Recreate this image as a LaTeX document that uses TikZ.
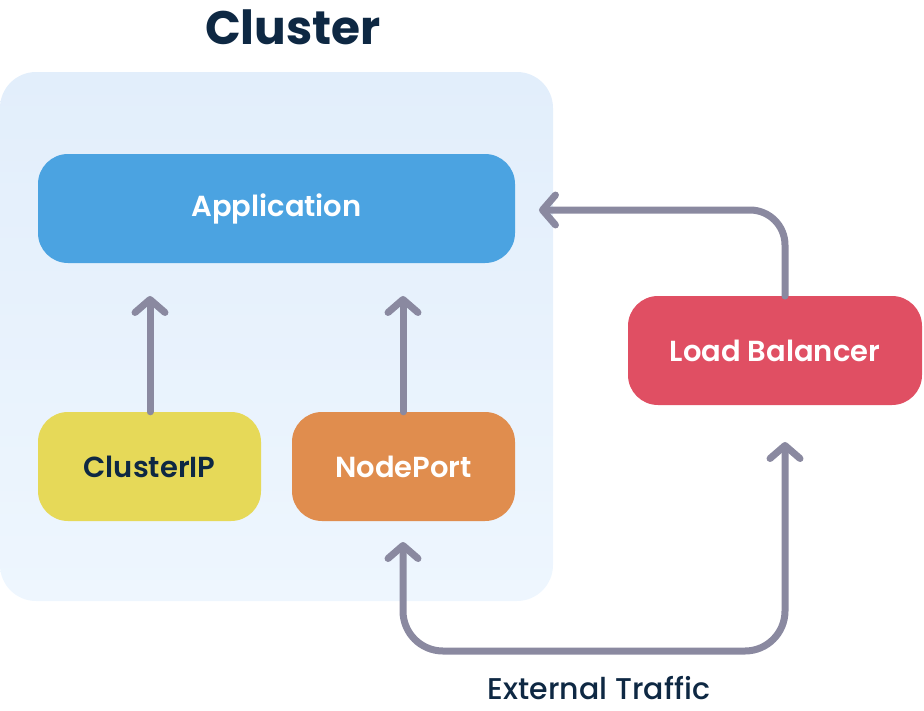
\documentclass[tikz,border=0pt]{standalone}
\usepackage{fontspec}
\setmainfont{Poppins}
\newfontfamily\labelfont{Poppins SemiBold}
\newfontfamily\extfont{Poppins Medium}
\usetikzlibrary{arrows.meta}
\definecolor{navy}{HTML}{0E2843}
\definecolor{clusterTop}{HTML}{E2EEFB}
\definecolor{clusterBot}{HTML}{EEF6FE}
\definecolor{appblue}{HTML}{4BA3E1}
\definecolor{ipyellow}{HTML}{E6D958}
\definecolor{portorange}{HTML}{E08D4E}
\definecolor{lbred}{HTML}{E04F63}
\definecolor{arrowgray}{HTML}{8A89A0}
\tikzset{
  box/.style={rounded corners=30pt, minimum height=109pt, inner sep=0pt, font=\fontsize{29}{30}\labelfont, text=white},
  conn/.style={draw=arrowgray, line width=7pt, line cap=round, line join=round,
    -{Straight Barb[length=13pt,width=30pt,line width=7pt,round]}},
  conn2/.style={draw=arrowgray, line width=7pt, line cap=round, line join=round,
    {Straight Barb[length=13pt,width=30pt,line width=7pt,round]}-{Straight Barb[length=13pt,width=30pt,line width=7pt,round]}}
}
\begin{document}
\begin{tikzpicture}[x=1pt,y=-1pt]
\useasboundingbox (0,0) rectangle (924,710);
% cluster background
\shade[top color=clusterTop, bottom color=clusterBot, rounded corners=36pt] (0,72) rectangle (553,601);
\node[font=\fontsize{47}{52}\selectfont\bfseries, text=navy] (title) at (293,27) {Cluster};
\node[box, fill=appblue, minimum width=477pt] (app) at (276.5,208.5) {Application};
\node[box, fill=ipyellow, minimum width=223pt, text=navy] (cip) at (149.5,466.5) {ClusterIP};
\node[box, fill=portorange, minimum width=223pt] (np) at (403.5,466.5) {NodePort};
\node[box, fill=lbred, minimum width=294pt] (lb) at (775,350.5) {Load Balancer};
\node[font=\fontsize{30}{32}\extfont, text=navy] (ext) at (599,688) {External Traffic};
\coordinate (cipTip) at (150,296);
\coordinate (npTip) at (403,296);
\coordinate (appTip) at (539,210);
\coordinate (npBot) at (403,542);
\coordinate (lbBot) at (785,442);
\draw[conn] (cip.north -| cipTip) -- (cipTip);
\draw[conn] (np.north -| npTip) -- (npTip);
\draw[conn, rounded corners=35pt] (785,296) -- (785,210) -- (appTip);
\draw[conn2, rounded corners=40pt] (npBot) -- (403,651) -- (785,651) -- (lbBot);
\end{tikzpicture}
\end{document}
